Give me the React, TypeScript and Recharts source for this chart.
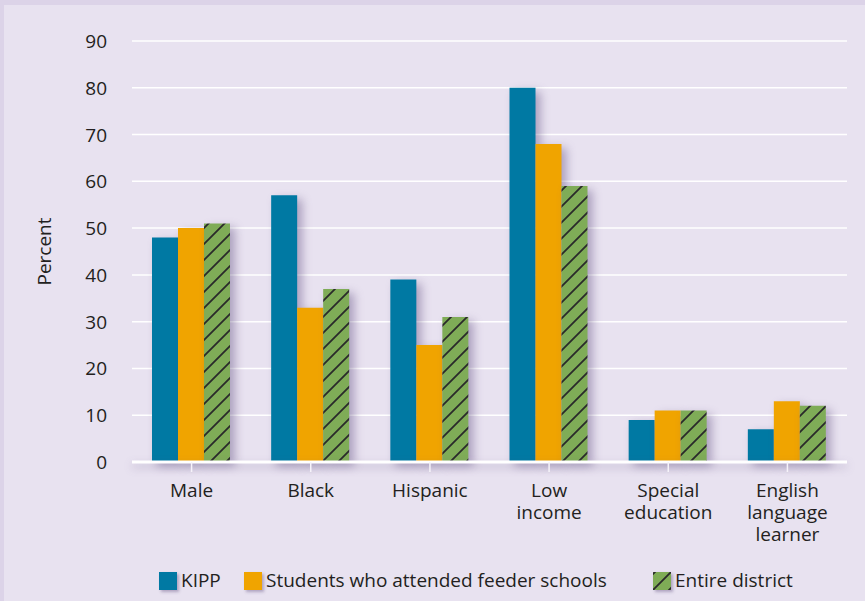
import React from 'react'
import { BarChart, Bar, XAxis, YAxis, CartesianGrid } from 'recharts'

const categories = ['Male', 'Black', 'Hispanic', 'Low income', 'Special education', 'English language learner']
const categoryLines = [['Male'], ['Black'], ['Hispanic'], ['Low', 'income'], ['Special', 'education'], ['English', 'language', 'learner']]
const kipp = [48, 57, 39, 80, 9, 7]
const feeder = [50, 33, 25, 68, 11, 13]
const district = [51, 37, 31, 59, 11, 12]
const yTicks = [0, 10, 20, 30, 40, 50, 60, 70, 80, 90]

const BLUE = '#0079A3'
const ORANGE = '#F0A400'
const GREEN = '#7FAC57'
const TEXT = '#231F20'
const FONT = '"Open Sans", sans-serif'

const data = categories.map((c, i) => ({
  category: c,
  kipp: kipp[i],
  feeder: feeder[i],
  district: district[i],
}))

function XTick({ x, y, payload }: any) {
  const lines = categoryLines[payload.index] || [payload.value]
  return (
    <g>
      {lines.map((l, i) => (
        <text key={i} x={x} y={y + 23 + i * 22} textAnchor="middle" fill={TEXT} fontSize={19} fontFamily={FONT}>
          {l}
        </text>
      ))}
    </g>
  )
}

function YTick({ x, y, payload }: any) {
  return (
    <text x={x - 17} y={y} dy={7} textAnchor="end" fill={TEXT} fontSize={19} fontFamily={FONT}>
      {payload.value}
    </text>
  )
}

const legendItems = [
  { label: 'KIPP', fill: BLUE, left: 159 },
  { label: 'Students who attended feeder schools', fill: ORANGE, left: 244 },
  { label: 'Entire district', fill: 'url(#hatchLegend)', left: 653 },
]

export default function App() {
  return (
    <div
      style={{
        position: 'absolute',
        left: 0,
        top: 0,
        width: 865,
        height: 601,
        background: '#E8E2F0',
        boxSizing: 'border-box',
        borderTop: '5px solid #DCD3E8',
        borderLeft: '4px solid #DCD3E8',
        overflow: 'hidden',
      }}
    >
      <style>{`
        .recharts-bar-rectangles { filter: drop-shadow(5px 4px 5px rgba(80, 60, 115, 0.4)); }
        .recharts-cartesian-axis.xAxis .recharts-cartesian-axis-line { filter: drop-shadow(0px 4px 4px rgba(80, 60, 115, 0.3)); }
      `}</style>
      <div style={{ position: 'absolute', left: -4, top: -5 }}>
        <BarChart
          width={865}
          height={601}
          data={data}
          margin={{ top: 41, right: 18, bottom: 99, left: 0 }}
          barCategoryGap={20}
          barGap={0}
        >
          <defs>
            <pattern id="hatch" patternUnits="userSpaceOnUse" width="16" height="16">
              <rect width="16" height="16" fill={GREEN} />
              <path d="M-4,4 L4,-4 M0,16 L16,0 M12,20 L20,12" stroke="#2A2A2A" strokeWidth="1.8" />
            </pattern>
          </defs>
          <CartesianGrid horizontal vertical={false} stroke="#FFFFFF" strokeWidth={1.5} />
          <XAxis
            dataKey="category"
            interval={0}
            height={40}
            axisLine={{ stroke: '#FFFFFF', strokeWidth: 3 }}
            tickLine={{ stroke: '#F6F3FA', strokeWidth: 1.5 }}
            tickSize={10}
            tick={<XTick />}
          />
          <YAxis
            width={132}
            domain={[0, 90]}
            ticks={yTicks}
            axisLine={false}
            tickLine={false}
            tick={<YTick />}
            label={{
              value: 'Percent',
              angle: -90,
              position: 'insideLeft',
              offset: 44,
              fill: TEXT,
              fontSize: 19,
              fontFamily: FONT,
              style: { textAnchor: 'middle' },
            }}
          />
          <Bar dataKey="kipp" fill={BLUE} isAnimationActive={false} />
          <Bar dataKey="feeder" fill={ORANGE} isAnimationActive={false} />
          <Bar dataKey="district" fill="url(#hatch)" isAnimationActive={false} />
        </BarChart>
      </div>
      <svg width={865} height={40} style={{ position: 'absolute', left: -4, top: 550 }}>
        <defs>
          <pattern id="hatchLegend" patternUnits="userSpaceOnUse" width="16" height="16">
            <rect width="16" height="16" fill={GREEN} />
            <path d="M-4,4 L4,-4 M0,16 L16,0 M12,20 L20,12" stroke="#2A2A2A" strokeWidth="1.8" />
          </pattern>
          <filter id="legShadow" x="-50%" y="-50%" width="200%" height="200%">
            <feDropShadow dx="2" dy="2" stdDeviation="1.5" floodColor="#5A4678" floodOpacity="0.4" />
          </filter>
        </defs>
        {legendItems.map((it) => (
          <g key={it.label}>
            <rect x={it.left} y={17} width={18} height={18} fill={it.fill} filter="url(#legShadow)" />
            <text x={it.left + 22} y={32} fill={TEXT} fontSize={19} fontFamily={FONT}>
              {it.label}
            </text>
          </g>
        ))}
      </svg>
    </div>
  )
}
